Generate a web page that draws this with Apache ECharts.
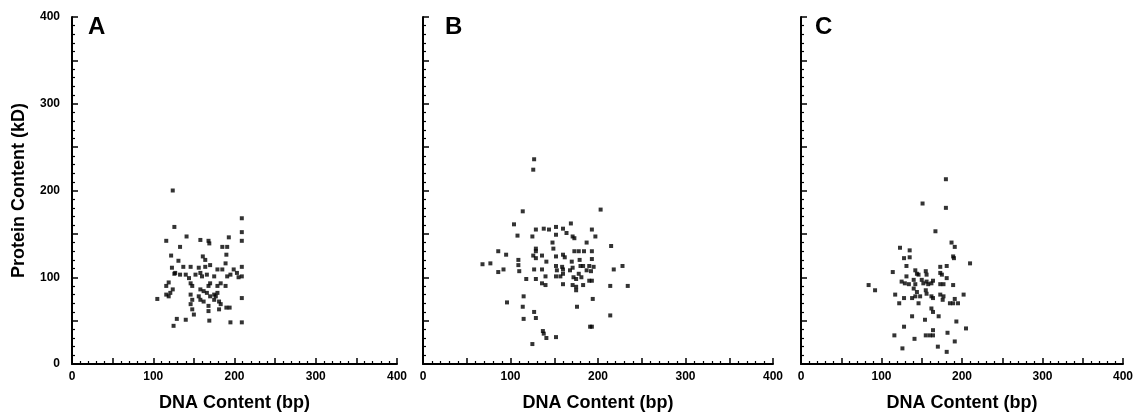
<!DOCTYPE html>
<html><head><meta charset="utf-8">
<script src="https://cdn.jsdelivr.net/npm/echarts@6/dist/echarts.min.js"></script>
<style>html,body{margin:0;padding:0;background:#fff}#c{width:1141px;height:417px}</style>
</head><body><div id="c"></div>
<script>
const panelLetters = ['A', 'B', 'C'];
const xTickLabels = [0, 100, 200, 300, 400];
const yTickLabels = [0, 100, 200, 300, 400];
const xName = 'DNA Content (bp)';
const yName = 'Protein Content (kD)';

const dataA = [
  [124,200],[126,158],[116,142],[141,147],[158,143],[168,142],[169,139],[185,135],[191,135],[193,146],
  [209,168],[209,152],[209,142],[209,112],[209,101],[209,76],[209,48],[122,125],[133,135],[131,119],
  [123,111],[126,104],[137,112],[146,112],[161,124],[164,120],[170,114],[179,109],[185,109],[190,126],
  [189,116],[191,101],[195,103],[199,109],[203,105],[205,100],[116,90],[119,94],[121,82],[119,78],
  [124,86],[105,75],[127,105],[133,103],[140,103],[144,99],[148,90],[146,93],[152,103],[156,111],
  [158,105],[160,101],[164,112],[166,103],[170,93],[175,101],[179,90],[183,93],[189,90],[158,86],
  [162,84],[166,82],[168,90],[170,78],[175,80],[179,82],[181,72],[183,69],[146,80],[148,74],
  [146,69],[148,63],[150,57],[156,78],[158,74],[162,72],[168,67],[168,61],[175,74],[177,78],
  [181,63],[190,65],[194,65],[195,48],[169,50],[125,44],[129,52],[140,51],[116,80]
];
const dataB = [
  [127,236],[126,224],[114,176],[203,178],[104,161],[108,148],[125,147],[129,155],[138,156],[144,155],
  [152,158],[160,156],[169,162],[164,151],[171,147],[173,145],[152,149],[193,155],[197,147],[187,140],
  [215,136],[129,133],[129,130],[148,140],[149,133],[173,130],[178,130],[184,130],[193,130],[86,130],
  [95,126],[126,125],[136,125],[129,122],[152,124],[160,126],[162,123],[141,118],[109,120],[109,114],
  [170,118],[179,120],[193,121],[68,115],[77,116],[86,106],[92,109],[110,107],[127,109],[136,109],
  [152,113],[153,108],[160,109],[159,112],[168,108],[171,111],[180,113],[183,113],[190,113],[195,112],
  [187,108],[192,107],[178,104],[218,109],[228,113],[140,101],[152,101],[157,101],[160,104],[172,100],
  [175,98],[181,100],[190,96],[193,96],[118,98],[129,98],[136,93],[140,91],[160,92],[171,91],
  [175,89],[175,85],[183,91],[214,90],[234,90],[115,78],[194,75],[96,71],[114,66],[176,66],
  [127,60],[115,52],[129,53],[214,56],[191,43],[193,43],[137,38],[138,35],[141,30],[152,31],[125,23]
];
const dataC = [
  [180,213],[180,180],[151,185],[167,153],[187,140],[191,135],[189,124],[190,122],[210,116],[123,134],
  [135,131],[128,122],[135,123],[131,113],[181,113],[173,112],[114,106],[142,108],[144,104],[146,103],
  [155,107],[156,103],[173,105],[175,103],[181,99],[131,101],[125,95],[129,93],[134,92],[140,97],
  [142,92],[150,97],[152,93],[156,95],[158,92],[162,93],[164,96],[173,92],[177,92],[189,91],
  [84,91],[92,85],[117,80],[128,76],[140,87],[144,83],[142,78],[148,78],[155,85],[156,81],
  [162,78],[164,76],[173,80],[177,78],[176,74],[122,70],[138,76],[146,70],[162,64],[164,60],
  [171,55],[185,70],[189,70],[195,70],[202,80],[191,75],[138,55],[154,51],[193,49],[128,43],
  [164,39],[182,36],[205,41],[116,33],[155,33],[160,33],[164,33],[141,29],[191,26],[126,18],
  [170,20],[181,14]
];
const panelData = [dataA, dataB, dataC];

const FONT = '"Liberation Sans", Arial, Helvetica, sans-serif';
const grids = [
  {left: 72, top: 17, width: 325, height: 347},
  {left: 423, top: 17, width: 350, height: 347},
  {left: 801, top: 17, width: 322, height: 347}
];
const letterX = [88, 445, 815];

const axisCommon = {
  type: 'value', min: 0, max: 400, interval: 50,
  axisLine: {show: true, onZero: false, lineStyle: {color: '#000', width: 2}},
  axisTick: {show: true, inside: true, length: 6, lineStyle: {color: '#000', width: 1.5}},
  minorTick: {show: true, splitNumber: 5, length: 3, lineStyle: {color: '#000', width: 1.2}},
  splitLine: {show: false}, minorSplitLine: {show: false}
};

const chart = echarts.init(document.getElementById('c'), null, {renderer: 'canvas'});
chart.setOption({
  animation: false,
  backgroundColor: '#fff',
  textStyle: {fontFamily: FONT},
  grid: grids,
  xAxis: grids.map((g, i) => Object.assign({}, axisCommon, {
    gridIndex: i,
    name: xName, nameLocation: 'middle', nameGap: 30,
    nameTextStyle: {color: '#000', fontSize: 18, fontWeight: 'bold', fontFamily: FONT},
    axisLabel: {show: true, margin: 7, color: '#000', fontSize: 12, fontWeight: 'bold', fontFamily: FONT,
      formatter: v => xTickLabels.includes(v) ? String(v) : ''}
  })),
  yAxis: grids.map((g, i) => Object.assign({}, axisCommon, {
    gridIndex: i,
    name: i === 0 ? yName : '', nameLocation: 'middle', nameGap: 44,
    nameTextStyle: {color: '#000', fontSize: 18, fontWeight: 'bold', fontFamily: FONT},
    axisLabel: {show: i === 0, margin: 12, color: '#000', fontSize: 12, fontWeight: 'bold', fontFamily: FONT,
      formatter: v => yTickLabels.includes(v) ? String(v) : ''}
  })),
  graphic: panelLetters.map((t, i) => ({
    type: 'text', left: letterX[i], top: 15, silent: true,
    style: {text: t, fill: '#000', font: 'bold 24px ' + FONT}
  })),
  series: panelData.map((d, i) => ({
    type: 'scatter', xAxisIndex: i, yAxisIndex: i, data: d,
    symbol: 'rect', symbolSize: 4, itemStyle: {color: '#000'}, silent: true
  }))
});
</script></body></html>
